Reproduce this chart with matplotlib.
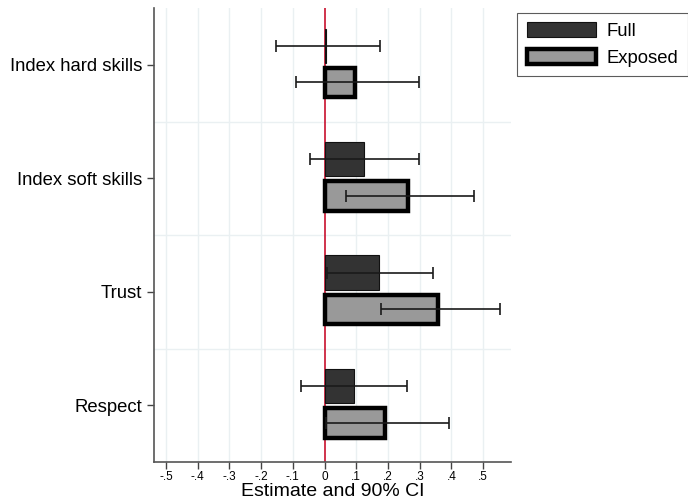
import matplotlib
matplotlib.use('Agg')
import matplotlib.pyplot as plt
from matplotlib.patches import Patch
import numpy as np

plt.rcParams['font.family'] = ['Liberation Sans', 'DejaVu Sans']

# Data
outcomes = ['Index hard skills', 'Index soft skills', 'Trust', 'Respect']
full_est = [0.005, 0.124, 0.172, 0.093]
full_lo = [-0.154, -0.046, 0.008, -0.074]
full_hi = [0.176, 0.297, 0.342, 0.260]
exposed_est = [0.097, 0.262, 0.358, 0.190]
exposed_lo = [-0.091, 0.067, 0.178, 0.003]
exposed_hi = [0.297, 0.472, 0.553, 0.393]
xticks = [-0.5, -0.4, -0.3, -0.2, -0.1, 0, 0.1, 0.2, 0.3, 0.4, 0.5]
xticklabels = ['-.5', '-.4', '-.3', '-.2', '-.1', '0', '.1', '.2', '.3', '.4', '.5']

grid_col = '#eaf0f2'

fig = plt.figure(figsize=(6.88, 5.01), dpi=100)
ax = fig.add_axes([0.2238, 0.0778, 0.519, 0.906])

ypos = np.arange(len(outcomes), 0, -1)
y_full = ypos + 0.17
y_exp = ypos - 0.155

full_est = np.array(full_est)
exposed_est = np.array(exposed_est)

ax.axvline(0, color='#c8102e', lw=1.2, zorder=1)

ax.barh(y_full, full_est, height=0.3, color='#333333', edgecolor='#111111', lw=0.8, zorder=2)
ax.barh(y_exp, exposed_est, height=0.26, color='#999999', edgecolor='black', lw=3.2, zorder=2)

ax.errorbar(full_est, y_full,
            xerr=[full_est - np.array(full_lo), np.array(full_hi) - full_est],
            fmt='none', ecolor='#1a1a1a', elinewidth=1.2, capsize=4, capthick=1.2, zorder=3)
ax.errorbar(exposed_est, y_exp,
            xerr=[exposed_est - np.array(exposed_lo), np.array(exposed_hi) - exposed_est],
            fmt='none', ecolor='#1a1a1a', elinewidth=1.2, capsize=4, capthick=1.2, zorder=3)

ax.set_xlim(-0.538, 0.588)
ax.set_ylim(0.5, len(outcomes) + 0.5)

ax.set_xticks(xticks)
ax.set_xticklabels(xticklabels, fontsize=8.5)
ax.set_yticks(ypos)
ax.set_yticklabels(outcomes, fontsize=13.3)
ax.tick_params(axis='both', colors='#444444', labelcolor='black', length=5, width=1)
ax.tick_params(axis='x', pad=1.5)

for x in xticks:
    if x != 0:
        ax.axvline(x, color=grid_col, lw=1, zorder=0)
for y in np.arange(1.5, len(outcomes), 1):
    ax.axhline(y, color=grid_col, lw=1, zorder=0)

for s in ['top', 'right']:
    ax.spines[s].set_visible(False)
for s in ['left', 'bottom']:
    ax.spines[s].set_color('#555555')
    ax.spines[s].set_linewidth(1.2)

ax.set_xlabel('Estimate and 90% CI', fontsize=14, labelpad=0)

handles = [Patch(facecolor='#333333', edgecolor='#111111', lw=0.8, label='Full'),
           Patch(facecolor='#999999', edgecolor='black', lw=3.2, label='Exposed')]
leg = fig.legend(handles=handles, loc='upper left', bbox_to_anchor=(0.752, 0.975),
                 fontsize=13.3, frameon=True, fancybox=False, edgecolor='#333333',
                 handlelength=3.75, handleheight=0.9, borderpad=0.5, labelspacing=0.5,
                 handletextpad=0.6, borderaxespad=0)
leg.get_frame().set_linewidth(0.8)

fig.savefig('out.png', dpi=100)
